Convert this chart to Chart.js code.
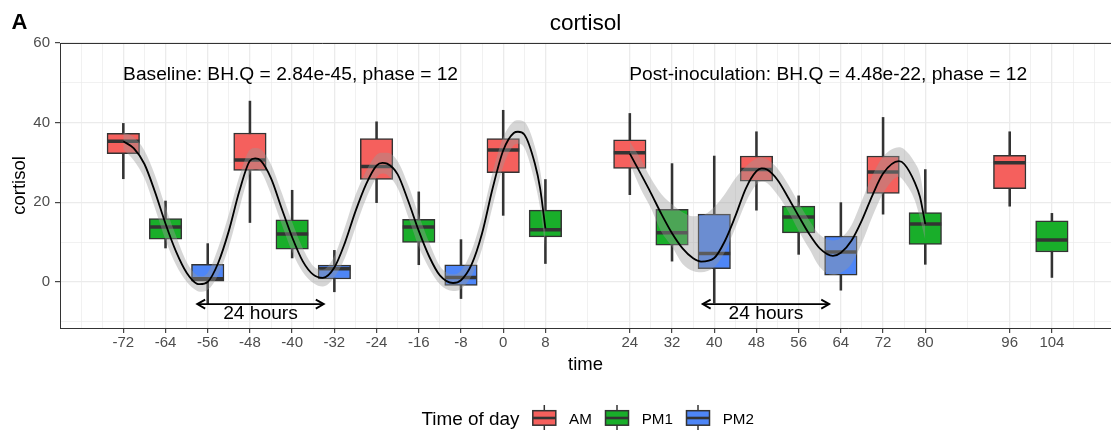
<!DOCTYPE html>
<html>
<head>
<meta charset="utf-8">
<script src="https://cdn.jsdelivr.net/npm/chart.js@4/dist/chart.umd.min.js"></script>
<style>
  html, body { margin: 0; padding: 0; background: #fff; }
</style>
</head>
<body>
<canvas id="chart" width="1111" height="431"></canvas>
<script>
// box statistics, one entry per sampling time
const times       = [-72, -64, -56, -48, -40, -32, -24, -16, -8, 0, 8, 24, 32, 40, 48, 56, 64, 72, 80, 96, 104];
const dayPart     = ['AM','PM1','PM2','AM','PM1','PM2','AM','PM1','PM2','AM','PM1','AM','PM1','PM2','AM','PM1','PM2','AM','PM1','AM','PM1'];
const whiskerLow  = [25.9, 8.5, -5.5, 14.9, 6.0, -2.5, 19.9, 4.3, -4.2, 16.7, 4.6, 21.9, 5.2, -5.3, 18.0, 6.9, -2.1, 17.0, 4.4, 19.0, 1.1];
const q1          = [32.2, 10.7, 0.0, 28.0, 8.2, 0.7, 25.7, 9.9, -0.9, 27.4, 11.3, 28.5, 9.2, 3.3, 25.3, 12.3, 1.7, 22.2, 9.4, 23.4, 7.5];
const median      = [35.3, 13.8, 0.8, 30.6, 12.0, 3.3, 29.0, 13.8, 1.1, 33.1, 13.1, 32.4, 12.3, 7.1, 28.2, 16.3, 7.5, 27.6, 14.5, 29.9, 10.5];
const q3          = [37.3, 15.9, 4.4, 37.4, 15.6, 4.2, 36.0, 15.7, 4.3, 36.0, 18.0, 35.7, 18.2, 17.0, 31.6, 19.0, 11.5, 31.6, 17.4, 31.8, 15.3];
const whiskerHigh = [39.8, 20.3, 9.6, 45.4, 23.0, 7.9, 40.2, 22.6, 10.6, 43.1, 25.7, 42.3, 29.7, 31.6, 37.7, 21.6, 19.9, 41.3, 28.2, 37.7, 17.2];

// fitted rhythm and its band, baseline period
const baseTime  = [-72, -70, -68, -66, -64, -62, -60, -58, -57.5, -56, -54, -52, -50, -48, -47, -46, -44, -42, -40, -38, -36, -34.2, -32, -30, -28, -26, -24, -22.9, -22, -20, -18, -16, -14, -12, -9.5, -8, -6, -4, -2, 0, 2, 2.8, 4, 6, 7, 8];
const baseFit   = [35.3, 33.5, 29.6, 22.6, 14.6, 7.6, 2.3, -0.5, -0.6, 0.0, 4.8, 12.8, 22.8, 30.4, 31.0, 30.5, 26.0, 18.5, 11.2, 5.2, 1.8, 1.0, 3.6, 9.8, 17.7, 24.5, 29.2, 29.9, 29.7, 27.0, 20.3, 12.8, 6.3, 1.6, -0.3, 0.4, 4.3, 12.2, 23.5, 33.0, 37.4, 37.7, 37.0, 29.7, 23.5, 13.4];
const baseUpper = [37.5, 36.3, 33.0, 26.8, 18.8, 11.5, 5.0, 1.6, 1.4, 2.3, 8.6, 17.0, 26.5, 33.2, 33.6, 33.3, 29.5, 22.5, 15.0, 8.5, 4.0, 3.1, 6.5, 13.8, 21.8, 27.8, 31.9, 32.4, 32.4, 30.3, 24.3, 16.8, 9.8, 4.0, 1.9, 2.8, 7.8, 16.5, 27.5, 36.3, 40.3, 40.6, 40.2, 34.0, 28.0, 18.5];
const baseLower = [33.3, 30.5, 26.0, 18.5, 10.5, 4.2, 0.0, -2.3, -2.5, -2.0, 1.8, 8.8, 18.5, 27.2, 28.3, 27.8, 22.0, 14.5, 7.5, 2.5, -0.3, -1.2, 1.2, 6.0, 13.6, 20.8, 26.2, 27.2, 26.9, 23.5, 16.3, 8.8, 3.3, -0.6, -2.3, -1.8, 1.5, 8.3, 19.0, 29.0, 34.3, 34.7, 33.7, 25.0, 18.5, 8.5];

// fitted rhythm and its band, post-inoculation period
const postTime  = [24, 26, 28, 30, 32, 34, 36, 37.5, 40, 42, 44, 46, 48, 49, 50, 52, 54, 56, 58, 60, 62.5, 64, 66, 68, 70, 72, 75, 76, 78, 79, 80];
const postFit   = [32.2, 27.3, 22.3, 17.0, 12.2, 8.4, 5.9, 5.1, 6.0, 10.2, 16.5, 23.5, 27.8, 28.5, 28.2, 25.6, 21.2, 16.5, 12.0, 8.4, 6.5, 7.3, 10.3, 15.5, 21.8, 27.2, 30.3, 29.6, 25.0, 21.3, 14.5];
const postUpper = [35.2, 31.0, 26.0, 22.0, 19.5, 17.5, 16.5, 16.6, 18.8, 22.0, 26.0, 29.0, 31.0, 31.2, 30.8, 28.5, 24.5, 19.8, 15.5, 11.8, 10.4, 11.0, 14.2, 20.5, 26.8, 31.4, 33.8, 33.3, 30.0, 27.0, 19.0];
const postLower = [29.7, 23.5, 18.5, 12.5, 8.8, 4.5, 2.7, 2.4, 3.7, 7.5, 13.5, 20.0, 24.5, 25.2, 24.8, 21.8, 17.8, 12.8, 8.3, 3.7, 1.7, 2.3, 4.5, 9.8, 16.5, 22.2, 26.4, 25.2, 20.5, 16.0, 10.5];

// axes
const xBreaks = [-72, -64, -56, -48, -40, -32, -24, -16, -8, 0, 8, 24, 32, 40, 48, 56, 64, 72, 80, 96, 104];
const xMinor  = [-80, -76, -68, -60, -52, -44, -36, -28, -20, -12, -4, 4, 16, 28, 36, 44, 52, 60, 68, 76, 88, 100, 108, 112];
const yBreaks = [0, 20, 40, 60];
const yMinor  = [-10, 10, 30, 50];

const groups = ['AM', 'PM1', 'PM2'];
const groupColors = { AM: '#F5605D', PM1: '#19AE2A', PM2: '#4E86F7' };

const FONT = "'Liberation Sans', Arial, Helvetica, sans-serif";
const INK = '#333333';
const RIBBON = 'rgba(153,153,153,0.4)';

const xGrid = xBreaks.concat(xMinor).sort((a, b) => a - b);
const yGrid = yBreaks.concat(yMinor).sort((a, b) => a - b);
const isMajorX = v => xBreaks.includes(v);
const isMajorY = v => yBreaks.includes(v);

const pts = (xs, ys) => xs.map((t, i) => ({ x: t, y: ys[i] }));

const datasets = [];

// whiskers behind the boxes
datasets.push({
  type: 'bar',
  label: 'whiskers',
  data: times.map((t, i) => ({ x: t, y: [whiskerLow[i], whiskerHigh[i]] })),
  backgroundColor: INK,
  borderWidth: 0,
  barThickness: 1.9,
  grouped: false,
  order: 6
});

groups.forEach(g => {
  const rows = times.map((t, i) => i).filter(i => dayPart[i] === g);
  datasets.push({
    type: 'bar',
    label: g,
    data: rows.map(i => ({ x: times[i], y: [q1[i], q3[i]] })),
    backgroundColor: groupColors[g],
    borderColor: INK,
    borderWidth: 1.5,
    borderSkipped: false,
    barThickness: 32.5,
    grouped: false,
    order: 5
  });
});

datasets.push({
  type: 'scatter',
  label: 'median',
  data: pts(times, median),
  pointStyle: 'line',
  pointRadius: 16,
  borderColor: INK,
  pointBorderColor: INK,
  borderWidth: 3.5,
  pointBorderWidth: 3.5,
  order: 4
});

function band(xs, up, lo) {
  datasets.push({
    type: 'line', label: 'upper', data: pts(xs, up),
    borderWidth: 0, pointRadius: 0, fill: false,
    cubicInterpolationMode: 'monotone', order: 3
  });
  datasets.push({
    type: 'line', label: 'lower', data: pts(xs, lo),
    borderWidth: 0, pointRadius: 0, fill: '-1', backgroundColor: RIBBON,
    cubicInterpolationMode: 'monotone', order: 3
  });
}
band(baseTime, baseUpper, baseLower);
band(postTime, postUpper, postLower);

[[baseTime, baseFit], [postTime, postFit]].forEach(([xs, ys]) => {
  datasets.push({
    type: 'line', label: 'fit', data: pts(xs, ys),
    borderColor: '#000', borderWidth: 1.8, pointRadius: 0, fill: false,
    cubicInterpolationMode: 'monotone', order: 1
  });
});

// text labels and arrows placed in data units
const notes = [
  { text: 'Baseline: BH.Q = 2.84e-45, phase = 12', x: -40.3, y: 52 },
  { text: 'Post-inoculation: BH.Q = 4.48e-22, phase = 12', x: 61.6, y: 52 },
  { text: '24 hours', x: -46, y: -7.9 },
  { text: '24 hours', x: 49.8, y: -7.9 }
];
const arrows = [
  { from: -58, to: -34, y: -5.6 },
  { from: 37.8, to: 61.8, y: -5.6 }
];

function arrowHead(ctx, x, y, dir) {
  const len = 8, spread = 4.5;
  ctx.beginPath();
  ctx.moveTo(x - dir * len, y - spread);
  ctx.lineTo(x, y);
  ctx.lineTo(x - dir * len, y + spread);
  ctx.stroke();
}

const decor = {
  id: 'decor',
  afterDatasetsDraw(chart) {
    const { ctx, scales: { x, y } } = chart;
    ctx.save();
    ctx.strokeStyle = '#000';
    ctx.lineWidth = 1.8;
    arrows.forEach(a => {
      const x1 = x.getPixelForValue(a.from), x2 = x.getPixelForValue(a.to), py = y.getPixelForValue(a.y);
      ctx.beginPath();
      ctx.moveTo(x1, py);
      ctx.lineTo(x2, py);
      ctx.stroke();
      arrowHead(ctx, x1, py, -1);
      arrowHead(ctx, x2, py, 1);
    });
    ctx.fillStyle = '#000';
    ctx.font = '19.2px ' + FONT;
    ctx.textAlign = 'center';
    ctx.textBaseline = 'middle';
    notes.forEach(n => ctx.fillText(n.text, x.getPixelForValue(n.x), y.getPixelForValue(n.y)));
    ctx.restore();
  },
  afterDraw(chart) {
    const { ctx, chartArea } = chart;
    ctx.save();
    // top of panel border
    ctx.strokeStyle = INK;
    ctx.lineWidth = 1;
    ctx.beginPath();
    ctx.moveTo(chartArea.left, chartArea.top + 0.5);
    ctx.lineTo(chartArea.right, chartArea.top + 0.5);
    ctx.stroke();

    ctx.fillStyle = '#000';
    ctx.textBaseline = 'alphabetic';
    ctx.font = 'bold 22px ' + FONT;
    ctx.textAlign = 'left';
    ctx.fillText('A', 11.5, 29.3);
    ctx.font = '22.6px ' + FONT;
    ctx.textAlign = 'center';
    ctx.fillText('cortisol', (chartArea.left + chartArea.right) / 2, 29.5);

    // legend
    ctx.textAlign = 'left';
    ctx.font = '18.9px ' + FONT;
    ctx.fillText('Time of day', 421.5, 425);
    const keyX = [544.3, 617, 698];
    const labX = [569, 641.7, 722.7];
    groups.forEach((g, i) => {
      const cx = keyX[i];
      ctx.strokeStyle = INK;
      ctx.lineWidth = 1.5;
      ctx.beginPath();
      ctx.moveTo(cx, 405);
      ctx.lineTo(cx, 430);
      ctx.stroke();
      ctx.fillStyle = groupColors[g];
      ctx.fillRect(cx - 11.5, 410.7, 23, 14.5);
      ctx.strokeRect(cx - 11.5, 410.7, 23, 14.5);
      ctx.lineWidth = 2.6;
      ctx.beginPath();
      ctx.moveTo(cx - 11.5, 418);
      ctx.lineTo(cx + 11.5, 418);
      ctx.stroke();
      ctx.fillStyle = '#000';
      ctx.font = '15.2px ' + FONT;
      ctx.fillText(g, labX[i], 424.3);
    });
    ctx.restore();
  }
};

new Chart(document.getElementById('chart'), {
  type: 'scatter',
  data: { datasets },
  plugins: [decor],
  options: {
    responsive: false,
    animation: false,
    events: [],
    layout: { autoPadding: false, padding: { top: 43, left: 0, right: 0, bottom: 0 } },
    plugins: {
      legend: { display: false },
      title: { display: false },
      tooltip: { enabled: false }
    },
    scales: {
      x: {
        type: 'linear',
        min: -84,
        max: 115.2,
        offset: false,
        afterBuildTicks: s => { s.ticks = xGrid.map(v => ({ value: v })); },
        afterFit: s => { s.height = 103; s.paddingLeft = 0; s.paddingRight = 0; },
        ticks: {
          autoSkip: false,
          maxRotation: 0,
          padding: 1,
          color: '#4D4D4D',
          font: { family: FONT, size: 15 },
          callback: v => isMajorX(v) ? String(v) : ''
        },
        grid: {
          offset: false,
          color: '#EBEBEB',
          lineWidth: c => (c.tick && isMajorX(c.tick.value)) ? 1.3 : 0.7,
          tickLength: 5,
          tickWidth: 1.1,
          tickColor: c => (c.tick && isMajorX(c.tick.value)) ? INK : 'rgba(0,0,0,0)'
        },
        border: { display: true, color: INK, width: 1 },
        title: {
          display: true, text: 'time', color: '#000',
          font: { family: FONT, size: 18.5 },
          padding: { top: 0, bottom: 55 }
        }
      },
      y: {
        type: 'linear',
        min: -11.6,
        max: 60,
        afterBuildTicks: s => { s.ticks = yGrid.map(v => ({ value: v })); },
        afterFit: s => { s.width = 60; s.paddingTop = 0; s.paddingBottom = 0; },
        ticks: {
          padding: 5,
          color: '#4D4D4D',
          font: { family: FONT, size: 15 },
          callback: v => isMajorY(v) ? String(v) : ''
        },
        grid: {
          color: '#EBEBEB',
          lineWidth: c => (c.tick && isMajorY(c.tick.value)) ? 1.3 : 0.7,
          tickLength: 5,
          tickWidth: 1.1,
          tickColor: c => (c.tick && isMajorY(c.tick.value)) ? INK : 'rgba(0,0,0,0)'
        },
        border: { display: true, color: INK, width: 1 },
        title: {
          display: true, text: 'cortisol', color: '#000',
          font: { family: FONT, size: 18.5 },
          padding: { top: 9, bottom: 0 }
        }
      }
    }
  }
});
</script>
</body>
</html>
